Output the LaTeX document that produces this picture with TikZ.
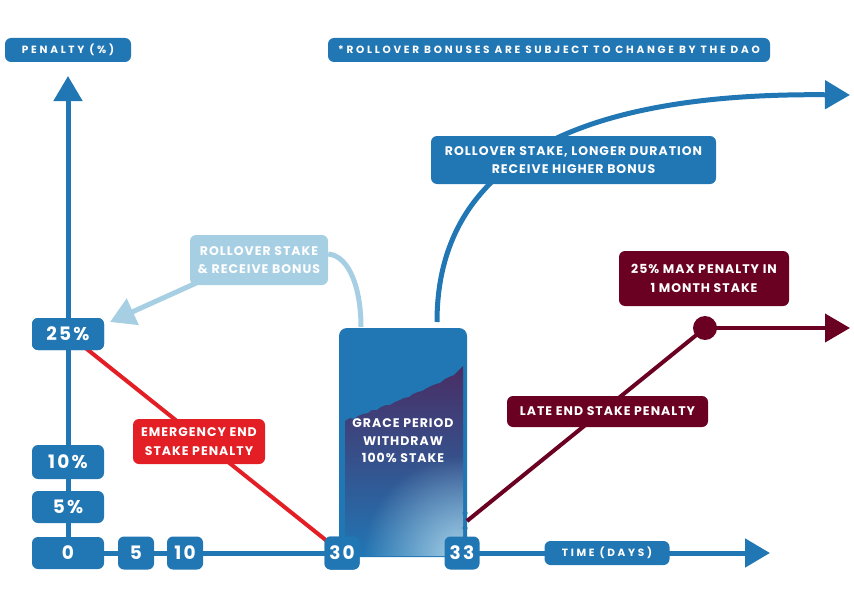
\documentclass[tikz,border=0pt]{standalone}
\usepackage{fontspec}
\setmainfont{Poppins}
\newfontfamily\lblfont{Poppins}[LetterSpace=8]
\newfontfamily\widefont{Poppins}[LetterSpace=26]
\newfontfamily\numfont{Poppins}[LetterSpace=12]
\usetikzlibrary{arrows.meta,fadings}

\definecolor{dblue}{RGB}{33,118,180}
\definecolor{lblue}{RGB}{167,207,227}
\definecolor{ered}{RGB}{227,30,36}
\definecolor{maroon}{RGB}{106,0,34}
\definecolor{gpurple}{RGB}{74,44,99}
\definecolor{glight}{RGB}{170,208,230}

\tikzfading[name=glow, inner color=transparent!0, outer color=transparent!100]

\tikzset{
  tag/.style={rounded corners=6pt, fill=dblue, text=white, align=center,
    inner sep=0pt, font=\lblfont\bfseries\fontsize{12.5}{18.5}\selectfont},
  widetag/.style={tag, font=\widefont\bfseries\fontsize{10.5}{12}\selectfont},
  numtag/.style={tag, font=\numfont\bfseries\fontsize{18.5}{18.5}\selectfont},
  bigtip/.style={-{Triangle[length=25pt,width=28pt]}},
  axisline/.style={line width=5pt, draw=dblue, bigtip},
}

\begin{document}
\begin{tikzpicture}[x=1pt,y=-1pt]
\useasboundingbox (0,0) rectangle (854,602);

% end points of the free connectors
\coordinate (ytip) at (68,76);
\coordinate (xtip) at (770,553);
\coordinate (rtip) at (110,322);
\coordinate (btip) at (850,95);
\coordinate (mtip) at (850,328);
\coordinate (gtopL) at (361,327);
\coordinate (gtopR) at (437,322);
\coordinate (lstart) at (467,521);

% axes
\draw[axisline] (68,553) -- (ytip);
\draw[axisline] (68,553) -- (xtip);

% grace period column
\path[rounded corners=8pt, fill=dblue] (339,328) rectangle (467,557);
\begin{scope}
  \clip (345,421) -- (350,418) -- (354,419) -- (358,416) -- (363,414) -- (368,413)
    -- (372,410) -- (377,410) -- (381,407) -- (386,405) -- (390,405) -- (395,402)
    -- (400,400) -- (404,398) -- (409,397) -- (413,394) -- (418,392) -- (422,391)
    -- (427,388) -- (431,386) -- (436,384) -- (440,383) -- (445,379) -- (449,377)
    -- (454,375) -- (458,371) -- (463,366) -- (463,556) -- (345,556) -- cycle;
  \shade[top color=gpurple, middle color=gpurple!75!dblue, bottom color=dblue]
    (345,364) rectangle (463,556);
  \fill[glight, path fading=glow] (463,556) circle (100pt);
\end{scope}
\node[text=white, align=center, inner sep=0pt,
  font=\lblfont\bfseries\fontsize{12.5}{17.5}\selectfont] (grace) at (403,441)
  {GRACE PERIOD\\WITHDRAW\\100\% STAKE};

% emergency end stake
\node[numtag, minimum width=35pt, minimum height=33pt] (d30) at (342,553) {30};
\node[numtag, minimum width=72pt, minimum height=32pt] (p25) at (68,334) {25\%};
\draw[ered, line width=4pt] (p25.center) -- (d30.center);
\node[numtag, minimum width=72pt, minimum height=32pt] at (p25) {25\%};
\node[numtag, minimum width=35pt, minimum height=33pt] at (d30) {30};
\node[tag, fill=ered, minimum width=132pt, minimum height=45pt] (emerg) at (199,441.5)
  {EMERGENCY END\\STAKE PENALTY};

% axis ticks
\node[numtag, minimum width=72pt, minimum height=34pt] (p10) at (68,462) {10\%};
\node[numtag, minimum width=72pt, minimum height=32pt] (p5) at (68,507) {5\%};
\node[numtag, minimum width=72pt, minimum height=32pt] (p0) at (68,553) {0};
\node[numtag, minimum width=36pt, minimum height=33pt] (d5) at (136,553) {5};
\node[numtag, minimum width=36pt, minimum height=33pt] (d10) at (185,553) {10};
\node[numtag, minimum width=35pt, minimum height=33pt] (d33) at (462,553) {33};
\node[widetag, minimum width=125pt, minimum height=24pt] (xlabel) at (607,553) {TIME (DAYS)};
\node[widetag, minimum width=126pt, minimum height=24pt] (ylabel) at (68,50) {PENALTY (\%)};
\node[widetag, minimum width=442pt, minimum height=24pt] (note) at (549,50)
  {*ROLLOVER BONUSES ARE SUBJECT TO CHANGE BY THE DAO};

% small link between the column and day 33
\draw[dblue, line width=3pt] (465,505) -- (d33.north -| 465,0);
\fill[dblue] (465,513) circle (2.6pt) (465,528) circle (2.6pt);

% rollover with bonus
\node[tag, fill=lblue, minimum width=138pt, minimum height=50pt] (roll) at (259,260)
  {ROLLOVER STAKE\\\& RECEIVE BONUS};
\draw[lblue, line width=5pt] ([yshift=6pt]roll.east) .. controls (350,256) and (361,290) .. (gtopL);
\draw[lblue, line width=5pt, bigtip] ([xshift=6pt,yshift=2pt]roll.south west) -- (rtip);

% rollover with longer duration
\draw[dblue, line width=5pt, bigtip] (gtopR) .. controls (437,185) and (540,92) .. (btip);
\node[tag, minimum width=285pt, minimum height=48pt] (longer) at (573.5,160)
  {ROLLOVER STAKE, LONGER DURATION\\RECEIVE HIGHER BONUS};

% late end stake
\node[circle, fill=maroon, minimum size=24pt, inner sep=0pt] (mx) at (705,328) {};
\draw[maroon, line width=4pt] (lstart) -- (mx.center);
\draw[maroon, line width=4pt, bigtip] (mx.center) -- (mtip);
\node[tag, fill=maroon, minimum width=201pt, minimum height=31pt] (late) at (607.5,411.5)
  {LATE END STAKE PENALTY};
\node[tag, fill=maroon, minimum width=170pt, minimum height=55pt] (maxp) at (704,278.5)
  {25\% MAX PENALTY IN\\1 MONTH STAKE};
\end{tikzpicture}
\end{document}
